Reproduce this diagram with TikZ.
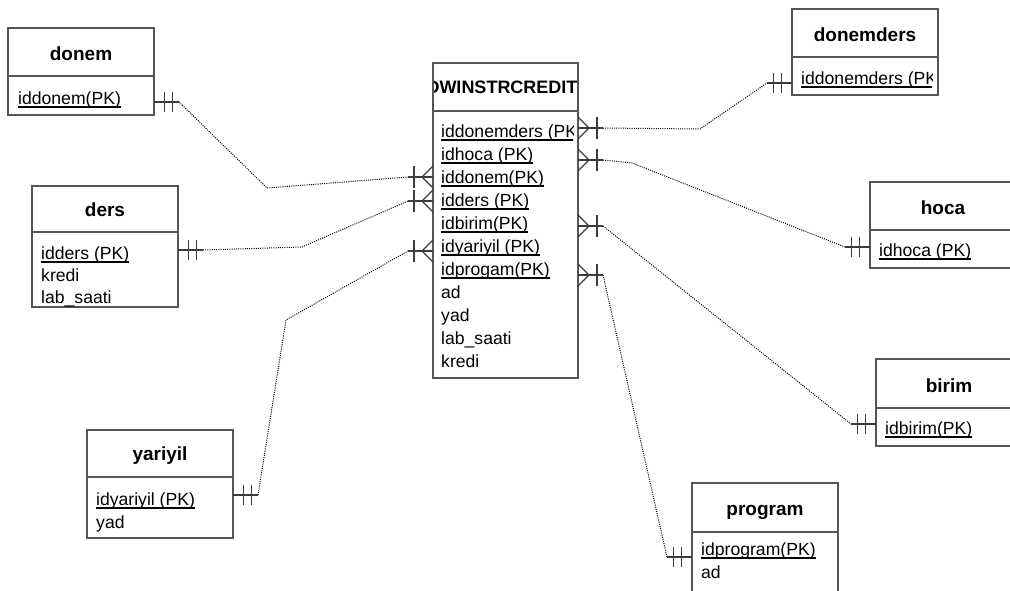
\documentclass[tikz,border=0pt]{standalone}
\usepackage{fontspec}
\setmainfont{Liberation Sans}
\definecolor{boxline}{RGB}{85,85,85}
\definecolor{notecol}{RGB}{60,60,60}

% underlined primary-key row and plain attribute row
\newcommand\keyrow[4]{%
  \node[erfield] (#1) at (#2,#3) {#4};
  \draw[keyline] ([yshift=-3pt]#1.base west) -- ([yshift=-3pt]#1.base east);}
\newcommand\plainrow[4]{\node[erfield] (#1) at (#2,#3) {#4};}

% relationship ends: #1 port on the box edge, #2 = 1 (outward to the right) or -1 (to the left)
\newcommand\oneend[2]{%
  \draw[notation] (#1) -- ++({#2*25},0);
  \draw[notation] (#1) ++({#2*10.5},-10) -- ++(0,20);
  \draw[notation] (#1) ++({#2*18.5},-10) -- ++(0,20);}
\newcommand\manyend[2]{%
  \draw[notation] (#1) -- ++({#2*25},0);
  \draw[notation] (#1) ++(0,-11) -- ++({#2*11},11) -- ++({#2*(-11)},11);
  \draw[notation] (#1) ++({#2*19},-11) -- ++(0,22);}

\begin{document}
\begin{tikzpicture}[x=1pt,y=-1pt,
  ebox/.style={draw=boxline, line width=1.1pt, anchor=north west,
    minimum width=146pt, inner sep=0pt, outer sep=0pt},
  divider/.style={draw=boxline, line width=1.1pt},
  ertitle/.style={anchor=base, inner sep=0pt, font=\fontsize{19}{21}\selectfont\bfseries},
  erfield/.style={anchor=base west, inner sep=0pt, font=\fontsize{17.6}{20}\selectfont},
  keyline/.style={line width=1.7pt, draw=black},
  notation/.style={draw=notecol, line width=1.1pt},
  erlink/.style={draw=black, line width=1pt, dash pattern=on 1pt off 1.2pt}
]
\useasboundingbox (0,0) rectangle (1010,590);
\clip (0,0) rectangle (1010,590);

% ---- donem ----
\node[ebox, minimum height=87pt] (donem) at (8,28) {};
\draw[divider] (8,76) -- (154,76);
\node[ertitle] (donem-t) at (81,60) {donem};
\keyrow{donem-k}{18}{104}{iddonem(PK)}

% ---- ders ----
\node[ebox, minimum height=121pt] (ders) at (32,186) {};
\draw[divider] (32,232) -- (178,232);
\node[ertitle] (ders-t) at (105,216) {ders};
\keyrow{ders-k}{41}{259}{idders (PK)}
\plainrow{ders-f1}{41}{281}{kredi}
\plainrow{ders-f2}{41}{303}{lab\_saati}

% ---- yariyil ----
\node[ebox, minimum height=108pt] (yariyil) at (87,430) {};
\draw[divider] (87,477) -- (233,477);
\node[ertitle] (yariyil-t) at (160,460) {yariyil};
\keyrow{yariyil-k}{96}{505}{idyariyil (PK)}
\plainrow{yariyil-f1}{96}{528}{yad}

% ---- central table ----
\node[ebox, minimum width=145pt, minimum height=315pt] (credit) at (433,63) {};
\draw[divider] (433,111) -- (578,111);
\begin{scope}
  \clip (434.5,64) rectangle (576,110);
  \node[ertitle, font=\fontsize{18}{20}\selectfont\bfseries] (credit-t) at (502,93) {DWINSTRCREDIT};
\end{scope}
\begin{scope}
  \clip (434.5,112) rectangle (573,377);
  \keyrow{credit-k1}{441}{137}{iddonemders (PK)}
  \keyrow{credit-k2}{441}{160}{idhoca (PK)}
  \keyrow{credit-k3}{441}{183}{iddonem(PK)}
  \keyrow{credit-k4}{441}{206}{idders (PK)}
  \keyrow{credit-k5}{441}{229}{idbirim(PK)}
  \keyrow{credit-k6}{441}{252}{idyariyil (PK)}
  \keyrow{credit-k7}{441}{275}{idprogam(PK)}
  \plainrow{credit-f1}{441}{298}{ad}
  \plainrow{credit-f2}{441}{321}{yad}
  \plainrow{credit-f3}{441}{344}{lab\_saati}
  \plainrow{credit-f4}{441}{367}{kredi}
\end{scope}

% ---- donemders ----
\node[ebox, minimum height=86pt] (donemders) at (792,9) {};
\draw[divider] (792,57) -- (938,57);
\node[ertitle] (donemders-t) at (865,41) {donemders};
\begin{scope}
  \clip (793,58) rectangle (932,94);
  \keyrow{donemders-k}{801}{84}{iddonemders (PK)}
\end{scope}

% ---- hoca ----
\node[ebox, minimum height=86pt] (hoca) at (870,182) {};
\draw[divider] (870,230) -- (1016,230);
\node[ertitle] (hoca-t) at (943,214) {hoca};
\keyrow{hoca-k}{879}{256}{idhoca (PK)}

% ---- birim ----
\node[ebox, minimum height=87pt] (birim) at (876,359) {};
\draw[divider] (876,408) -- (1022,408);
\node[ertitle] (birim-t) at (949,392) {birim};
\keyrow{birim-k}{885}{434}{idbirim(PK)}

% ---- program ----
\node[ebox, minimum height=130pt] (program) at (692,483) {};
\draw[divider] (692,532) -- (838,532);
\node[ertitle] (program-t) at (765,515) {program};
\keyrow{program-k}{701}{555}{idprogram(PK)}
\plainrow{program-f1}{701}{578}{ad}

% ---- ports ----
\path (donem.north east) ++(0,74) coordinate (donem-p);
\path (ders.north east) ++(0,64) coordinate (ders-p);
\path (yariyil.north east) ++(0,65) coordinate (yariyil-p);
\path (donemders.north west) ++(0,74) coordinate (donemders-p);
\path (hoca.north west) ++(0,65) coordinate (hoca-p);
\path (birim.north west) ++(0,65) coordinate (birim-p);
\path (program.north west) ++(0,74) coordinate (program-p);
\path (credit.north west) ++(0,114) coordinate (cr-donem);
\path (credit.north west) ++(0,138) coordinate (cr-ders);
\path (credit.north west) ++(0,188) coordinate (cr-yariyil);
\path (credit.north east) ++(0,65) coordinate (cr-donemders);
\path (credit.north east) ++(0,97) coordinate (cr-hoca);
\path (credit.north east) ++(0,163) coordinate (cr-birim);
\path (credit.north east) ++(0,212) coordinate (cr-program);

% ---- bends ----
\coordinate (k-donem) at (267,188);
\coordinate (k-ders) at (302,247);
\coordinate (k-yariyil) at (286,320);
\coordinate (k-donemders) at (700,129);
\coordinate (k-hoca) at (632,163);

% ---- relationship ends ----
\oneend{donem-p}{1}
\oneend{ders-p}{1}
\oneend{yariyil-p}{1}
\oneend{donemders-p}{-1}
\oneend{hoca-p}{-1}
\oneend{birim-p}{-1}
\oneend{program-p}{-1}
\manyend{cr-donem}{-1}
\manyend{cr-ders}{-1}
\manyend{cr-yariyil}{-1}
\manyend{cr-donemders}{1}
\manyend{cr-hoca}{1}
\manyend{cr-birim}{1}
\manyend{cr-program}{1}

% ---- dotted relationship lines ----
\draw[erlink] ([xshift=25pt]donem-p) -- (k-donem) -- ([xshift=-25pt]cr-donem);
\draw[erlink] ([xshift=25pt]ders-p) -- (k-ders) -- ([xshift=-25pt]cr-ders);
\draw[erlink] ([xshift=25pt]yariyil-p) -- (k-yariyil) -- ([xshift=-25pt]cr-yariyil);
\draw[erlink] ([xshift=25pt]cr-donemders) -- (k-donemders) -- ([xshift=-25pt]donemders-p);
\draw[erlink] ([xshift=25pt]cr-hoca) -- (k-hoca) -- ([xshift=-25pt]hoca-p);
\draw[erlink] ([xshift=25pt]cr-birim) -- ([xshift=-25pt]birim-p);
\draw[erlink] ([xshift=25pt]cr-program) -- ([xshift=-25pt]program-p);
\end{tikzpicture}
\end{document}
